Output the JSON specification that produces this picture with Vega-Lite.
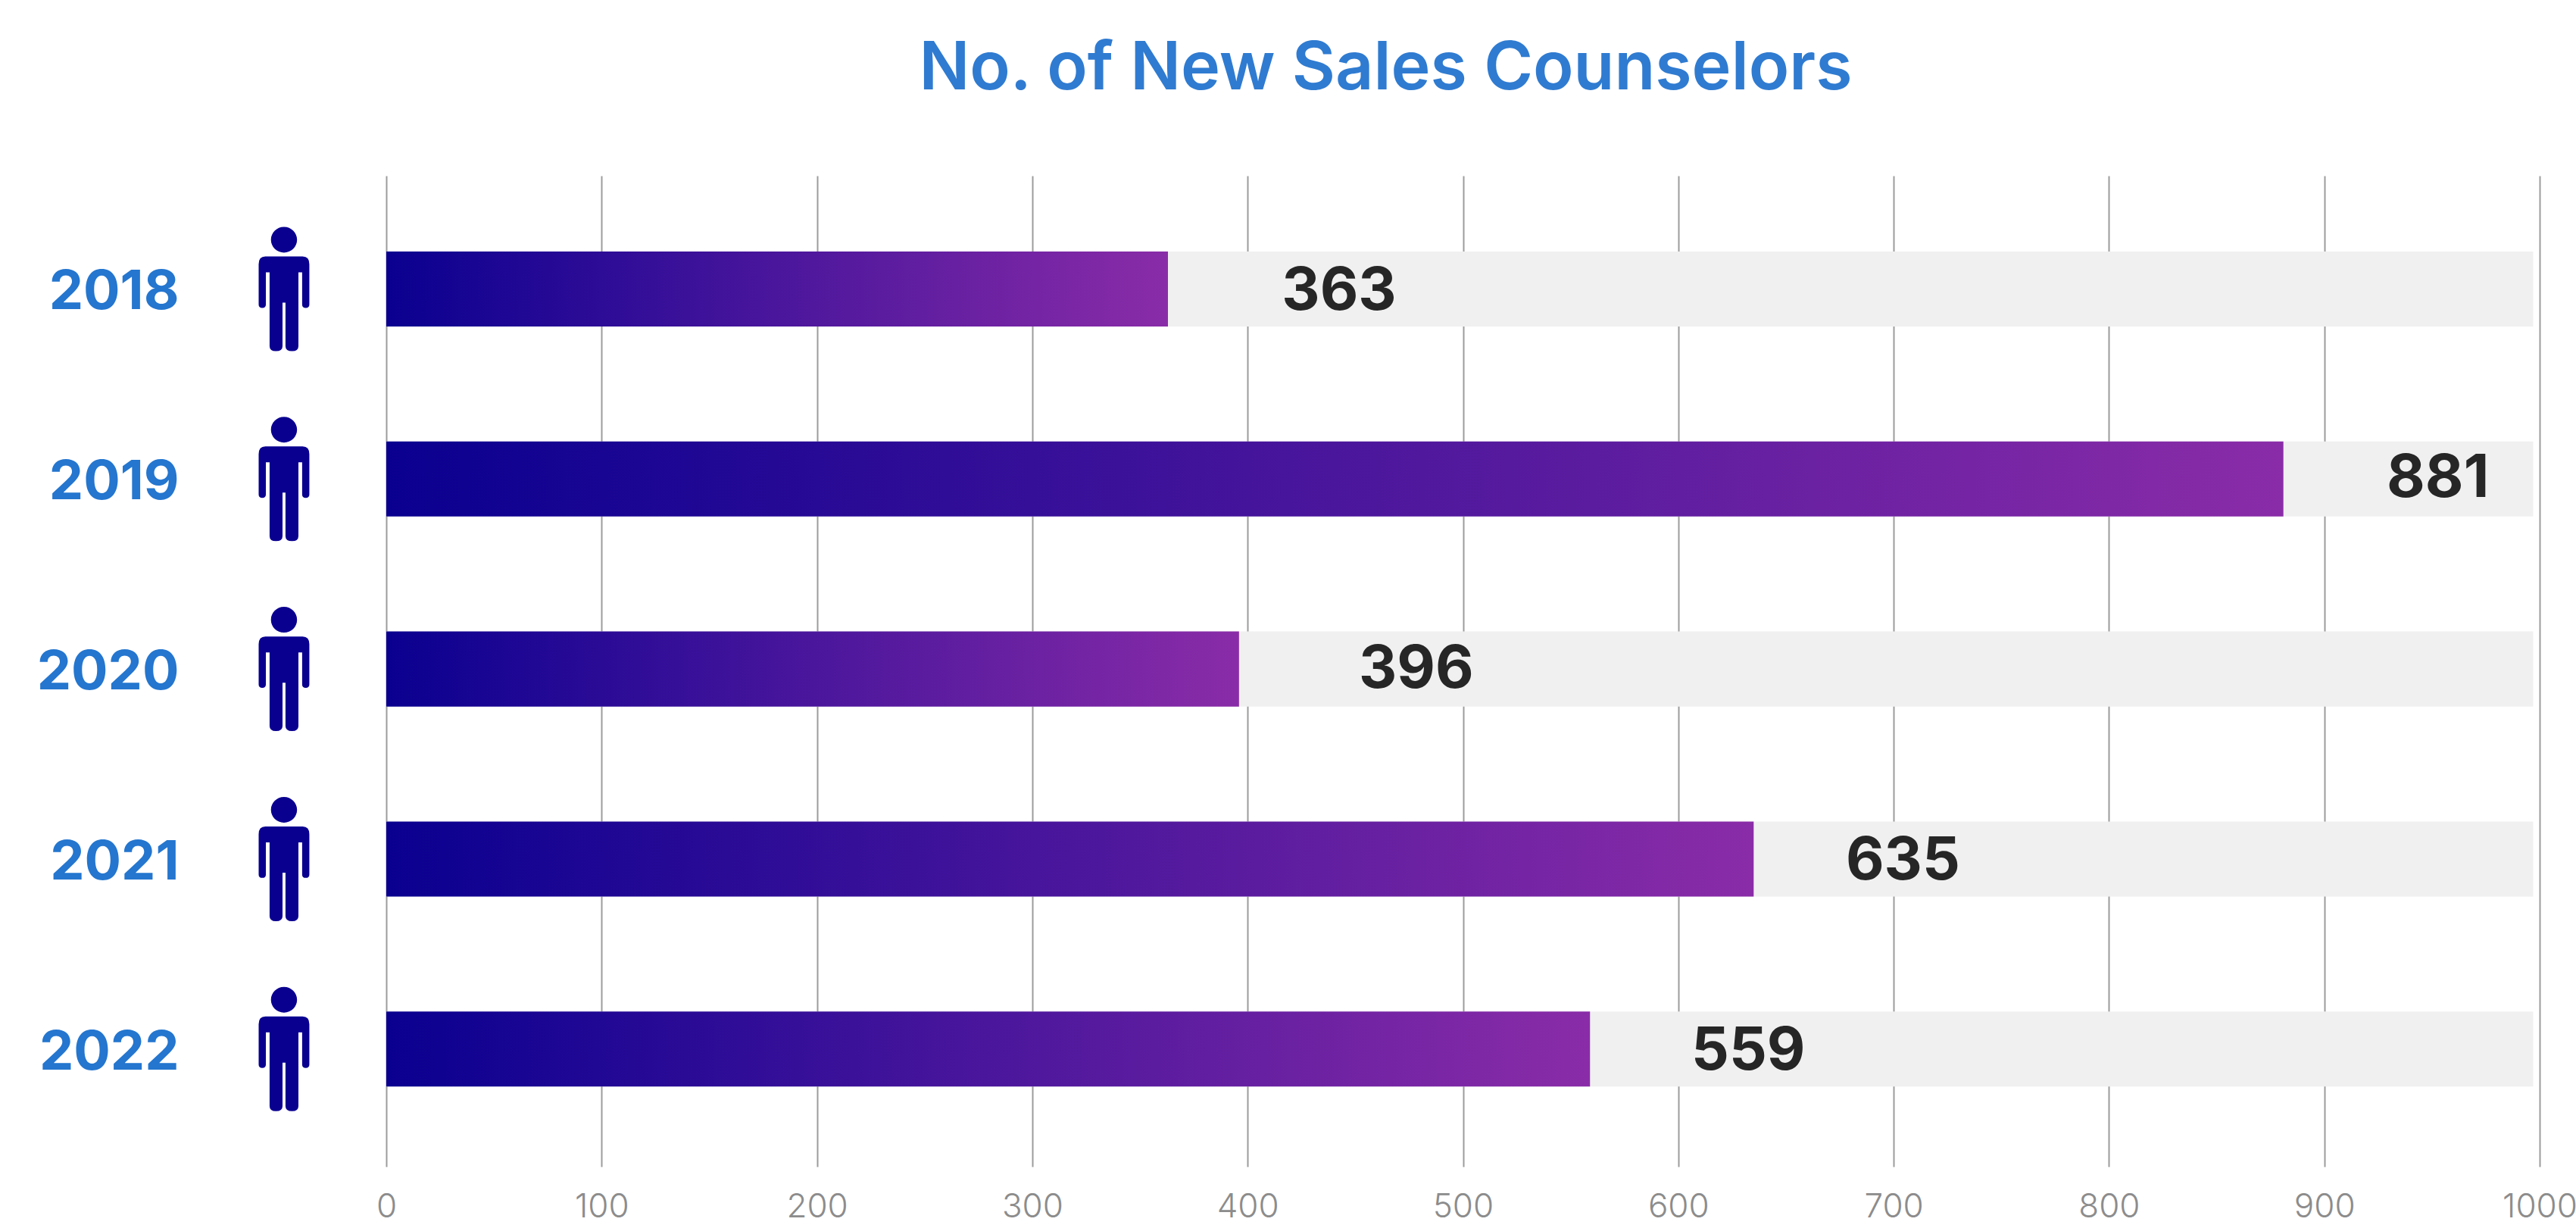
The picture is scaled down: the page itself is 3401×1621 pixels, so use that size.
{
  "$schema": "https://vega.github.io/schema/vega-lite/v6.json",
  "width": 2843,
  "height": 1308,
  "autosize": "none",
  "padding": {"left": 510, "top": 232, "right": 48, "bottom": 81},
  "background": "#ffffff",
  "title": {
    "text": "No. of New Sales Counselors",
    "anchor": "middle",
    "frame": "group",
    "dx": -102,
    "offset": 96,
    "font": "Inter",
    "fontSize": 88,
    "fontWeight": 600,
    "color": "#2f7bd1"
  },
  "config": {"view": {"stroke": null}},
  "data": {
    "values": [
      {"year": "2018", "counselors": 363},
      {"year": "2019", "counselors": 881},
      {"year": "2020", "counselors": 396},
      {"year": "2021", "counselors": 635},
      {"year": "2022", "counselors": 559}
    ]
  },
  "encoding": {
    "y": {
      "field": "year",
      "type": "nominal",
      "sort": null,
      "title": null,
      "scale": {"paddingInner": 0.605, "paddingOuter": 0.41, "align": 0.486},
      "axis": {
        "domain": false,
        "ticks": false,
        "labelPadding": 274,
        "labelOffset": 5,
        "labelLimit": 400,
        "labelFont": "Inter",
        "labelFontSize": 72,
        "labelFontWeight": 700,
        "labelColor": "#2476cf"
      }
    }
  },
  "layer": [
    {
      "mark": {"type": "bar", "color": "#f0f0f0"},
      "encoding": {
        "x": {
          "datum": 997,
          "type": "quantitative",
          "title": null,
          "scale": {"domain": [0, 1000], "nice": false},
          "axis": {
            "values": [0, 100, 200, 300, 400, 500, 600, 700, 800, 900, 1000],
            "grid": true,
            "gridColor": "#9c9c9c",
            "gridWidth": 2,
            "domain": false,
            "ticks": false,
            "labelPadding": 66,
            "labelFont": "Inter",
            "labelFontSize": 44,
            "labelFontWeight": 300,
            "labelColor": "#8c8c8c",
            "labelBaseline": "alphabetic",
            "labelFlush": false,
            "format": "d"
          }
        }
      }
    },
    {
      "mark": {
        "type": "bar",
        "color": {
          "gradient": "linear",
          "x1": 0,
          "y1": 0,
          "x2": 1,
          "y2": 0,
          "stops": [
            {"offset": 0, "color": "#0a0090"},
            {"offset": 1, "color": "#8a2ca8"}
          ]
        }
      },
      "encoding": {"x": {"field": "counselors", "type": "quantitative"}}
    },
    {
      "mark": {
        "type": "point",
        "filled": true,
        "opacity": 1,
        "color": "#0a0090",
        "size": 107584,
        "shape": "M0 -0.5 C0.058 -0.5 0.105 -0.454 0.105 -0.396 C0.105 -0.339 0.058 -0.293 0 -0.293 C-0.058 -0.293 -0.105 -0.339 -0.105 -0.396 C-0.105 -0.454 -0.058 -0.5 0 -0.5 Z M-0.15 -0.262 L0.15 -0.262 Q0.204 -0.262 0.204 -0.2 L0.204 0.125 Q0.204 0.152 0.175 0.152 Q0.146 0.152 0.146 0.125 L0.146 -0.134 L0.116 -0.134 L0.116 0.46 Q0.116 0.5 0.065 0.5 Q0.012 0.5 0.012 0.46 L0.012 0.11 L-0.012 0.11 L-0.012 0.46 Q-0.012 0.5 -0.065 0.5 Q-0.116 0.5 -0.116 0.46 L-0.116 -0.134 L-0.146 -0.134 L-0.146 0.125 Q-0.146 0.152 -0.175 0.152 Q-0.204 0.152 -0.204 0.125 L-0.204 -0.2 Q-0.204 -0.262 -0.15 -0.262 Z"
      },
      "encoding": {"x": {"datum": -47.5, "type": "quantitative"}}
    },
    {
      "transform": [{"filter": "datum.year === '2018'"}],
      "mark": {"type": "text", "font": "Inter", "fontSize": 78, "fontWeight": 700, "color": "#262626", "dx": 226, "dy": 5},
      "encoding": {"x": {"field": "counselors", "type": "quantitative"}, "text": {"field": "counselors", "type": "quantitative"}}
    },
    {
      "transform": [{"filter": "datum.year === '2019'"}],
      "mark": {"type": "text", "font": "Inter", "fontSize": 78, "fontWeight": 700, "color": "#262626", "dx": 204, "dy": 1},
      "encoding": {"x": {"field": "counselors", "type": "quantitative"}, "text": {"field": "counselors", "type": "quantitative"}}
    },
    {
      "transform": [{"filter": "datum.year === '2020'"}],
      "mark": {"type": "text", "font": "Inter", "fontSize": 78, "fontWeight": 700, "color": "#262626", "dx": 234, "dy": 2},
      "encoding": {"x": {"field": "counselors", "type": "quantitative"}, "text": {"field": "counselors", "type": "quantitative"}}
    },
    {
      "transform": [{"filter": "datum.year === '2021'"}],
      "mark": {"type": "text", "font": "Inter", "fontSize": 78, "fontWeight": 700, "color": "#262626", "dx": 197, "dy": 4},
      "encoding": {"x": {"field": "counselors", "type": "quantitative"}, "text": {"field": "counselors", "type": "quantitative"}}
    },
    {
      "transform": [{"filter": "datum.year === '2022'"}],
      "mark": {"type": "text", "font": "Inter", "fontSize": 78, "fontWeight": 700, "color": "#262626", "dx": 209, "dy": 4},
      "encoding": {"x": {"field": "counselors", "type": "quantitative"}, "text": {"field": "counselors", "type": "quantitative"}}
    }
  ]
}
